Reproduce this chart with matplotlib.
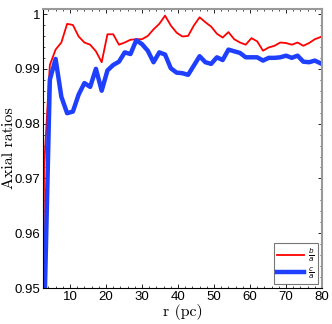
import matplotlib
matplotlib.use("Agg")
import matplotlib.pyplot as plt
from matplotlib.ticker import MultipleLocator

r_pc = [1.2, 2.8, 4.4, 6.0, 7.6, 9.2, 10.8, 12.4, 14.0, 15.6, 17.2, 18.8,
        20.4, 22.0, 23.6, 25.2, 26.8, 28.4, 30.0, 31.6, 33.2, 34.8, 36.4, 38.0,
        39.6, 41.2, 42.8, 44.4, 46.0, 47.6, 49.2, 50.8, 52.4, 54.0, 55.6, 57.2,
        58.8, 60.4, 62.0, 63.6, 65.2, 66.8, 68.4, 70.0, 71.6, 73.2, 74.8, 76.4,
        78.0, 79.6]

b_over_a = [0.80, 0.972,
            0.9907, 0.9935, 0.9948, 0.9982, 0.9980, 0.9959, 0.9948, 0.9944, 0.9932, 0.9912,
            0.9963, 0.9963, 0.9944, 0.9948, 0.9953, 0.9954, 0.9954, 0.9960, 0.9972, 0.9982,
            0.9997, 0.9979, 0.9966, 0.9959, 0.9960, 0.9979, 0.9994, 0.9985, 0.9977, 0.9964,
            0.9957, 0.9967, 0.9954, 0.9948, 0.9944, 0.9956, 0.9950, 0.9933, 0.9939, 0.9942,
            0.9948, 0.9947, 0.9944, 0.9948, 0.9942, 0.9947, 0.9954, 0.9958]

c_over_a = [0.80, 0.943,
            0.9880, 0.9918, 0.9849, 0.9819, 0.9822, 0.9853, 0.9874, 0.9867, 0.9900, 0.9860,
            0.9897, 0.9907, 0.9913, 0.9930, 0.9927, 0.9952, 0.9945, 0.9933, 0.9912, 0.9930,
            0.9926, 0.9901, 0.9893, 0.9892, 0.9889, 0.9906, 0.9923, 0.9912, 0.9909, 0.9921,
            0.9916, 0.9935, 0.9932, 0.9929, 0.9921, 0.9921, 0.9921, 0.9915, 0.9920, 0.9920,
            0.9921, 0.9924, 0.9920, 0.9924, 0.9913, 0.9912, 0.9915, 0.9910]

x_ticks = [10, 20, 30, 40, 50, 60, 70, 80]
y_ticks = [0.95, 0.96, 0.97, 0.98, 0.99, 1.0]
y_ticklabels = ["0.95", "0.96", "0.97", "0.98", "0.99", "1"]

fig = plt.figure(figsize=(3.32, 3.24), dpi=100)
ax = fig.add_axes([0.1295, 0.111, 0.8405, 0.861])

ax.plot(r_pc, b_over_a, color="#ff0000", lw=1.3, label=r"$\frac{b}{a}$")
ax.plot(r_pc, c_over_a, color="#1f3fff", lw=3.2, label=r"$\frac{c}{a}$")

ax.set_xlim(2.5, 80)
ax.set_ylim(0.95, 1.0009)
ax.set_xticks(x_ticks)
ax.set_yticks(y_ticks)
ax.set_yticklabels(y_ticklabels)
ax.xaxis.set_minor_locator(MultipleLocator(2))
ax.yaxis.set_minor_locator(MultipleLocator(0.002))
ax.tick_params(which="both", direction="in", top=True, right=True,
               labelsize=9.5, pad=2)
ax.tick_params(which="major", length=3, width=0.6)
ax.tick_params(which="minor", length=1.5, width=0.5)
for lab in ax.get_xticklabels() + ax.get_yticklabels():
    lab.set_fontfamily("Liberation Sans")

for s in ("left", "bottom"):
    ax.spines[s].set_color("black")
    ax.spines[s].set_linewidth(0.8)
for s in ("top", "right"):
    ax.spines[s].set_color("#999999")
    ax.spines[s].set_linewidth(1.5)

ax.set_xlabel("r (pc)", fontname="cmr10", fontsize=11.5, labelpad=1)
ax.set_ylabel("Axial ratios", fontname="cmr10", fontsize=11.5)
ax.yaxis.set_label_coords(-0.095, 0.5)

leg = ax.legend(loc="lower right", fontsize=7.5, frameon=True, fancybox=False,
                handlelength=2.6, borderpad=0.3, labelspacing=0.15,
                handletextpad=0.4, borderaxespad=0.4)
leg.get_frame().set_edgecolor("#555555")
leg.get_frame().set_linewidth(0.8)

fig.savefig("out.png", dpi=100)
